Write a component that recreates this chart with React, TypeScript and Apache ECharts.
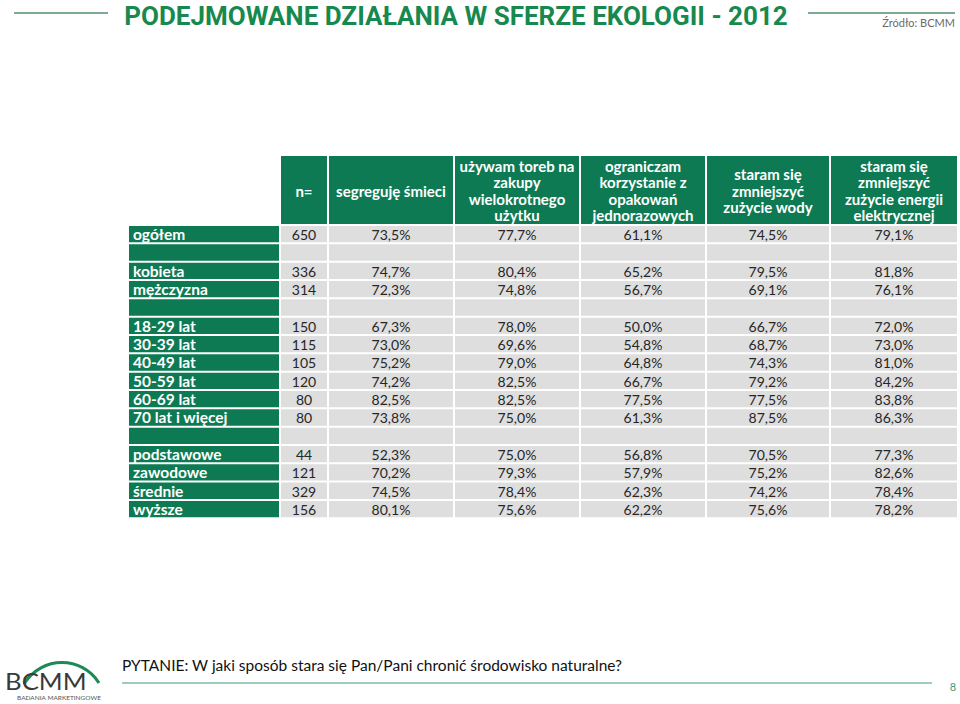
import React, { useEffect, useRef } from "react";
import * as echarts from "echarts";

// ---------- DATA ----------
const rowLabels = [
  "ogółem", "", "kobieta", "mężczyzna", "",
  "18-29 lat", "30-39 lat", "40-49 lat", "50-59 lat", "60-69 lat", "70 lat i więcej", "",
  "podstawowe", "zawodowe", "średnie", "wyższe",
];
const columnHeaders = [
  "n=",
  "segreguję śmieci",
  "używam toreb na\nzakupy\nwielokrotnego\nużytku",
  "ograniczam\nkorzystanie z\nopakowań\njednorazowych",
  "staram się\nzmniejszyć\nzużycie wody",
  "staram się\nzmniejszyć\nzużycie energii\nelektrycznej",
];
const nValues = [650, null, 336, 314, null, 150, 115, 105, 120, 80, 80, null, 44, 121, 329, 156];
const segregujeSmieci = [73.5, null, 74.7, 72.3, null, 67.3, 73.0, 75.2, 74.2, 82.5, 73.8, null, 52.3, 70.2, 74.5, 80.1];
const torbyWielokrotne = [77.7, null, 80.4, 74.8, null, 78.0, 69.6, 79.0, 82.5, 82.5, 75.0, null, 75.0, 79.3, 78.4, 75.6];
const ograniczamOpakowania = [61.1, null, 65.2, 56.7, null, 50.0, 54.8, 64.8, 66.7, 77.5, 61.3, null, 56.8, 57.9, 62.3, 62.2];
const zuzycieWody = [74.5, null, 79.5, 69.1, null, 66.7, 68.7, 74.3, 79.2, 77.5, 87.5, null, 70.5, 75.2, 74.2, 75.6];
const zuzycieEnergii = [79.1, null, 81.8, 76.1, null, 72.0, 73.0, 81.0, 84.2, 83.8, 86.3, null, 77.3, 82.6, 78.4, 78.2];

const titleText = "PODEJMOWANE DZIAŁANIA W SFERZE EKOLOGII - 2012";
const sourceText = "Źródło: BCMM";
const questionText = "PYTANIE: W jaki sposób stara się Pan/Pani chronić środowisko naturalne?";
const pageNumber = "8";

// ---------- LAYOUT (table units) ----------
const COL_WIDTHS = [150, 46, 124, 124, 124, 122, 126];
const GAP = 2;
const HEADER_H = 68;
const ROW_PITCH = 18.33;

const GREEN = "#0e7a53";
const TITLE_GREEN = "#17894e";
const GRAY = "#dedede";
const FONT = "Lato";

type Cell = { col: number; row: number; text: string; kind: "header" | "label" | "n" | "val" };

const fmtPct = (v: number | null) => (v == null ? "" : v.toFixed(1).replace(".", ",") + "%");

function buildCells(): Cell[] {
  const cells: Cell[] = [];
  columnHeaders.forEach((h, i) => cells.push({ col: i + 1, row: -1, text: h, kind: "header" }));
  const valueCols = [segregujeSmieci, torbyWielokrotne, ograniczamOpakowania, zuzycieWody, zuzycieEnergii];
  rowLabels.forEach((lab, r) => {
    cells.push({ col: 0, row: r, text: lab, kind: "label" });
    cells.push({ col: 1, row: r, text: nValues[r] == null ? "" : String(nValues[r]), kind: "n" });
    valueCols.forEach((arr, c) => cells.push({ col: c + 2, row: r, text: fmtPct(arr[r]), kind: "val" }));
  });
  return cells;
}

export default function App() {
  const ref = useRef<HTMLDivElement>(null);
  useEffect(() => {
    if (!ref.current) return;
    const chart = echarts.init(ref.current, null, { renderer: "svg" });
    const cells = buildCells();
    const colStart: number[] = [];
    let acc = 0;
    COL_WIDTHS.forEach((w) => { colStart.push(acc); acc += w + GAP; });
    const totalW = acc - GAP;
    const totalH = HEADER_H + GAP + rowLabels.length * ROW_PITCH;

    const option: any = {
      animation: false,
      backgroundColor: "#ffffff",
      grid: { left: 129, top: 156, width: totalW, height: totalH },
      xAxis: { type: "value", min: 0, max: totalW, show: false },
      yAxis: { type: "value", min: 0, max: totalH, inverse: true, show: false },
      series: [
        {
          type: "custom",
          clip: false,
          data: cells.map((c) => [c.col, c.row]),
          renderItem: (params: any, api: any) => {
            const c = cells[params.dataIndex];
            const x0 = colStart[c.col];
            const x1 = x0 + COL_WIDTHS[c.col];
            let y0: number, y1: number;
            if (c.row < 0) { y0 = 0; y1 = HEADER_H; }
            else { y0 = HEADER_H + GAP + c.row * ROW_PITCH; y1 = y0 + ROW_PITCH - GAP; }
            const p0 = api.coord([x0, y0]);
            const p1 = api.coord([x1, y1]);
            const w = p1[0] - p0[0];
            const h = p1[1] - p0[1];
            const isGreen = c.kind === "header" || c.kind === "label";
            const children: any[] = [
              { type: "rect", shape: { x: p0[0], y: p0[1], width: w, height: h }, style: { fill: isGreen ? GREEN : GRAY } },
            ];
            if (c.text) {
              const isLabel = c.kind === "label";
              children.push({
                type: "text",
                style: {
                  text: c.text,
                  x: isLabel ? p0[0] + 4 : p0[0] + w / 2,
                  y: p0[1] + h / 2 + (isLabel ? 0 : 0.5),
                  align: isLabel ? "left" : "center",
                  verticalAlign: "middle",
                  fill: isGreen ? "#ffffff" : "#262626",
                  fontFamily: FONT,
                  fontWeight: isGreen ? "bold" : "normal",
                  fontSize: c.kind === "header" ? 15 : isLabel ? 15.5 : 14,
                  lineHeight: 16.6,
                },
              });
            }
            return { type: "group", children };
          },
        },
      ],
      graphic: [
        { type: "line", shape: { x1: 14, y1: 13, x2: 108, y2: 13 }, style: { stroke: "#4f8f6f", lineWidth: 1.5 } },
        { type: "line", shape: { x1: 808, y1: 13, x2: 955, y2: 13 }, style: { stroke: "#4f8f6f", lineWidth: 1.5 } },
        {
          type: "text", x: 456, y: 16, scaleX: 1.0,
          style: { text: titleText, align: "center", verticalAlign: "middle", fill: TITLE_GREEN, fontFamily: "Roboto", fontWeight: "bold", fontSize: 26 },
        },
        {
          type: "text", x: 955, y: 22,
          style: { text: sourceText, align: "right", verticalAlign: "middle", fill: "#6a6a6a", fontFamily: FONT, fontSize: 11 },
        },
        {
          type: "text", x: 122, y: 665,
          style: { text: questionText, align: "left", verticalAlign: "middle", fill: "#111111", fontFamily: FONT, fontSize: 15.5 },
        },
        { type: "line", shape: { x1: 122, y1: 683, x2: 932, y2: 683 }, style: { stroke: "#3f9a78", lineWidth: 1.2 } },
        {
          type: "text", x: 953, y: 686,
          style: { text: pageNumber, align: "center", verticalAlign: "middle", fill: "#3f9a78", fontFamily: FONT, fontSize: 11 },
        },
        // logo
        {
          type: "bezierCurve",
          shape: { x1: 24, y1: 684, cpx1: 42, cpy1: 655, cpx2: 82, cpy2: 656, x2: 99, y2: 683 },
          style: { stroke: "#1d8a55", lineWidth: 3, fill: null },
        },
        {
          type: "text", x: 5, y: 681, scaleX: 1.12,
          style: { text: "BCMM", align: "left", verticalAlign: "middle", fill: "#3a3a3a", fontFamily: FONT, fontSize: 23 },
        },
        {
          type: "text", x: 17, y: 697,
          style: { text: "BADANIA MARKETINGOWE", align: "left", verticalAlign: "middle", fill: "#555555", fontFamily: FONT, fontSize: 6.5 },
        },
      ],
    };
    chart.setOption(option);
    return () => chart.dispose();
  }, []);
  return <div ref={ref} style={{ position: "fixed", left: 0, top: 0, width: 960, height: 704 }} />;
}
